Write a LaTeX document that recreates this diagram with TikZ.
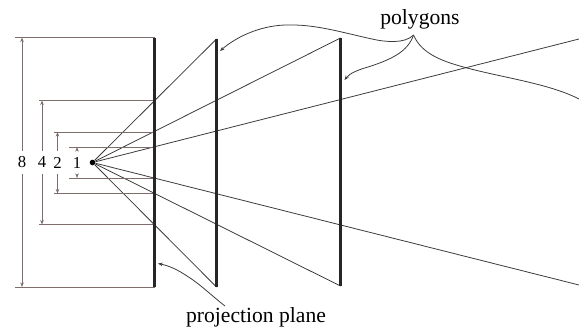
\documentclass[tikz,border=0pt]{standalone}
\usepackage{fontspec}
\setmainfont{Liberation Serif}
\usetikzlibrary{arrows.meta}
\definecolor{dimgray}{HTML}{7D6E6C}
\definecolor{raygray}{HTML}{3A3A3A}
\begin{document}
\begin{tikzpicture}[x=0.02cm,y=-0.02cm,>={Stealth[length=2.6pt,width=2pt]},
    plane/.style={black!85,line width=1.6pt},
    ray/.style={raygray,line width=0.45pt},
    dimln/.style={dimgray,line width=0.45pt},
    curveln/.style={raygray,line width=0.45pt},
    every node/.style={inner sep=0pt}]
  \useasboundingbox (0,0) rectangle (579,328);
  % the eye point
  \node[circle,fill=black,minimum size=3.2pt] (eye) at (92.5,162.5) {};
  % rays first, the planes go on top
  \foreach \n/\x/\yt/\yb in {pr/154.5/38/287, pa/216.5/39/287, pb/340.5/38/286}{
    \coordinate (\n t) at (\x,\yt);
    \coordinate (\n b) at (\x,\yb);
  }
  \coordinate (rt) at (579,39);
  \coordinate (rb) at (579,285);
  \foreach \e in {pat,pab,pbt,pbb,rt,rb}{
    \draw[ray] (eye)--(\e);
  }
  % the dimensions: number, x of arrow, x of tick, top and bottom
  \foreach \i/\x/\s/\yt/\yb in {8/22/15/37.5/287, 4/42/39/100.5/224.5, 2/57.5/54/132/193.5, 1/77/69/147/178}{
    \node[font=\fontsize{9.5}{12}\selectfont,inner ysep=3.2pt,inner xsep=2pt] (l\i) at (\x,162.5) {\i};
    \coordinate (s\i t) at (\s,\yt);
    \coordinate (s\i b) at (\s,\yb);
    \coordinate (a\i t) at (\x,\yt);
    \coordinate (a\i b) at (\x,\yb);
    \coordinate (e\i t) at (154.5,\yt);
    \coordinate (e\i b) at (154.5,\yb);
    \draw[dimln] (s\i t)--(e\i t);
    \draw[dimln] (s\i b)--(e\i b);
    \draw[dimln,->] (l\i)--(a\i t);
    \draw[dimln,->] (l\i)--(a\i b);
  }
  \foreach \n in {pr,pa,pb}{
    \draw[plane] (\n t)--(\n b);
  }
  % labels and their curved leaders
  \node[font=\fontsize{12.3}{14}\selectfont] (polygons) at (420,19) {polygons};
  \node[font=\fontsize{12.3}{14}\selectfont] (projplane) at (256,317) {projection plane};
  \coordinate (fork) at (413.5,35);
  \coordinate (ha) at (220,51);
  \coordinate (hb) at (344.5,80);
  \coordinate (hr) at (579,99);
  \coordinate (pl) at (225,306);
  \coordinate (hp) at (158,263.5);
  \draw[curveln,->] (fork) .. controls (405,44) and (385,42) .. (372,39)
     .. controls (340,32) and (315,24) .. (285,25)
     .. controls (258,26) and (235,38) .. (ha);
  \draw[curveln,->] (fork) .. controls (408,52) and (390,60) .. (368,67)
     .. controls (358,70) and (350,73) .. (hb);
  \draw[curveln] (fork) .. controls (422,55) and (445,62) .. (467,68)
     .. controls (505,78) and (550,84) .. (hr);
  \draw[curveln,->] (pl) .. controls (212,296) and (200,284) .. (187,276)
     .. controls (178,270) and (170,266) .. (hp);
\end{tikzpicture}
\end{document}
